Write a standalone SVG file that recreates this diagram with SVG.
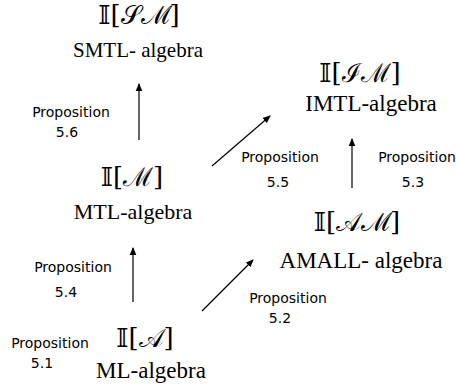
<svg xmlns="http://www.w3.org/2000/svg" width="456" height="387" viewBox="0 0 456 387">
<style>
.m{font-family:"DejaVu Serif","Liberation Serif",serif;font-size:26px;fill:#000}
.l{font-family:"Liberation Serif",serif;fill:#000}
.p{font-family:"DejaVu Sans","Liberation Sans",sans-serif;font-size:14px;fill:#000}
.c{stroke:#000;stroke-width:1.2;fill:none;marker-end:url(#a)}
</style>
<defs><marker id="a" markerWidth="8" markerHeight="8" refX="7" refY="4" orient="auto" markerUnits="userSpaceOnUse"><path d="M0,0.7 L8,4 L0,7.3 Z" fill="#000"/></marker></defs>
<rect width="456" height="387" fill="#fff"/>
<g id="connectors">
<line class="c" x1="139" y1="140" x2="139" y2="84"/>
<line class="c" x1="212" y1="166" x2="270" y2="116"/>
<line class="c" x1="352" y1="188" x2="352" y2="139"/>
<line class="c" x1="133" y1="302" x2="133" y2="248"/>
<line class="c" x1="202" y1="311" x2="253" y2="260"/>
</g>
<g id="SM"><text class="m" x="139" y="24" text-anchor="middle">𝕀[𝒮ℳ]</text><text class="l" x="138" y="57" font-size="21" text-anchor="middle">SMTL- algebra</text></g>
<g id="IM"><text class="m" x="360" y="82" text-anchor="middle">𝕀[ℐℳ]</text><text class="l" x="371" y="111" font-size="23" text-anchor="middle">IMTL-algebra</text></g>
<g id="M"><text class="m" x="132" y="186" text-anchor="middle">𝕀[ℳ]</text><text class="l" x="133" y="219" font-size="22" text-anchor="middle">MTL-algebra</text></g>
<g id="AM"><text class="m" x="357" y="231" text-anchor="middle">𝕀[𝒜ℳ]</text><text class="l" x="361" y="268" font-size="23" text-anchor="middle">AMALL- algebra</text></g>
<g id="A"><text class="m" x="145" y="347" text-anchor="middle">𝕀[𝒜]</text><text class="l" x="151" y="378" font-size="23" text-anchor="middle">ML-algebra</text></g>
<g id="labels">
<text class="p" x="71" y="117" text-anchor="middle">Proposition</text><text class="p" x="67" y="137" text-anchor="middle">5.6</text>
<text class="p" x="280" y="162" text-anchor="middle">Proposition</text><text class="p" x="278" y="187" text-anchor="middle">5.5</text>
<text class="p" x="417" y="162" text-anchor="middle">Proposition</text><text class="p" x="413" y="187" text-anchor="middle">5.3</text>
<text class="p" x="73" y="272" text-anchor="middle">Proposition</text><text class="p" x="66" y="297" text-anchor="middle">5.4</text>
<text class="p" x="288" y="303" text-anchor="middle">Proposition</text><text class="p" x="280" y="323" text-anchor="middle">5.2</text>
<text class="p" x="50" y="348" text-anchor="middle">Proposition</text><text class="p" x="42" y="368" text-anchor="middle">5.1</text>
</g>
</svg>
